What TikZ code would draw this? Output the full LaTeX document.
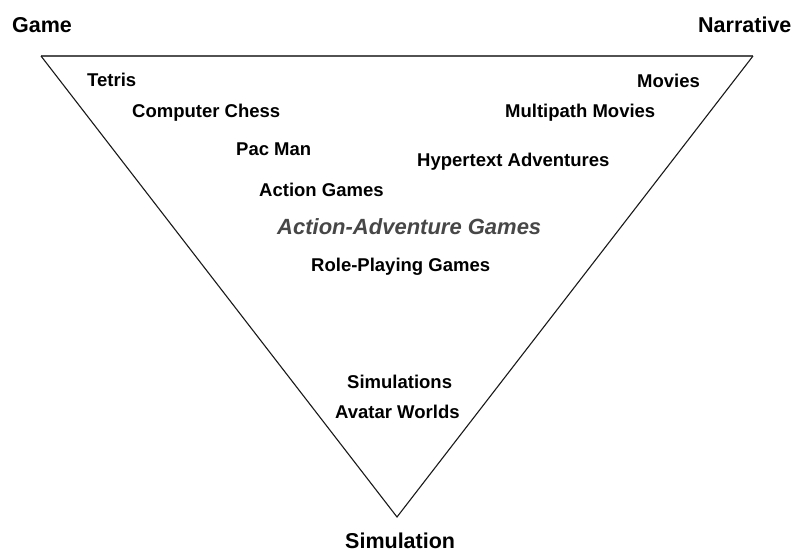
\documentclass[tikz,border=0pt]{standalone}
\usepackage{fontspec}
\setmainfont{Liberation Sans}
\begin{document}
\begin{tikzpicture}[x=1pt,y=-1pt,
  corner/.style={font=\bfseries\fontsize{21.5}{24}\selectfont, inner sep=0pt, anchor=base west},
  item/.style={font=\bfseries\fontsize{18.5}{22}\selectfont, inner sep=0pt, anchor=base west},
  hub/.style={font=\bfseries\itshape\fontsize{22}{26}\selectfont, text=black!72, inner sep=0pt, anchor=base west}]
\useasboundingbox (0,0) rectangle (795,553);
% triangle corners
\coordinate (g) at (41,56);
\coordinate (n) at (753,56);
\coordinate (s) at (397,517);
\draw[line width=2.4pt, black!68] (g) -- (n);
\draw[line width=1.1pt, black!90] (g) -- (s) -- (n);
% vertex labels
\node[corner] (lg) at (12,33) {Game};
\node[corner] (ln) at (698,33) {Narrative};
\node[corner] (ls) at (345,548) {Simulation};
% game side
\node[item] (tetris) at (87,87) {Tetris};
\node[item] (chess) at (132,118) {Computer Chess};
\node[item] (pac) at (236,156) {Pac Man};
\node[item] (action) at (259,197) {Action Games};
% middle
\node[hub] (aag) at (277,235) {Action-Adventure Games};
\node[item] (rpg) at (311,272) {Role-Playing Games};
% narrative side
\node[item] (movies) at (637,88) {Movies};
\node[item] (multi) at (505,118) {Multipath Movies};
\node[item] (hyper) at (417,167) {Hypertext Adventures};
% simulation side
\node[item] (sims) at (347,388) {Simulations};
\node[item] (avatar) at (335,418) {Avatar Worlds};
\end{tikzpicture}
\end{document}
